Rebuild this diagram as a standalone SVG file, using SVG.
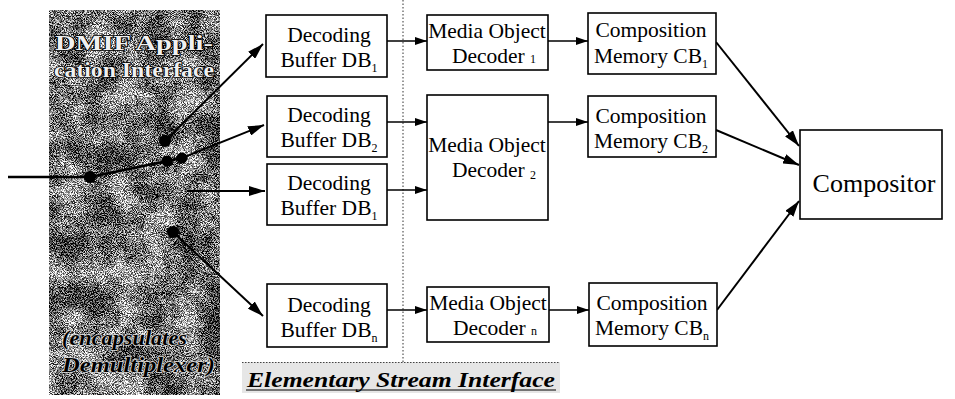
<svg xmlns="http://www.w3.org/2000/svg" width="955" height="399" viewBox="0 0 955 399">
<defs>
  <filter id="grain" x="0" y="0" width="1" height="1" filterUnits="objectBoundingBox" color-interpolation-filters="sRGB">
    <feTurbulence type="fractalNoise" baseFrequency="1.1" numOctaves="2" seed="7" result="f"/>
    <feColorMatrix in="f" type="matrix" values="1 0 0 0 0  1 0 0 0 0  1 0 0 0 0  0 0 0 0 1" result="fg"/>
    <feComponentTransfer in="fg" result="fc">
      <feFuncR type="linear" slope="3.6" intercept="-1.3"/>
      <feFuncG type="linear" slope="3.6" intercept="-1.3"/>
      <feFuncB type="linear" slope="3.6" intercept="-1.3"/>
    </feComponentTransfer>
    <feTurbulence type="fractalNoise" baseFrequency="0.035" numOctaves="3" seed="3" result="c"/>
    <feColorMatrix in="c" type="matrix" values="1 0 0 0 0  1 0 0 0 0  1 0 0 0 0  0 0 0 0 1" result="cg"/>
    <feComponentTransfer in="cg" result="cc">
      <feFuncR type="linear" slope="2.4" intercept="-0.7"/>
      <feFuncG type="linear" slope="2.4" intercept="-0.7"/>
      <feFuncB type="linear" slope="2.4" intercept="-0.7"/>
    </feComponentTransfer>
    <feComposite in="fc" in2="cc" operator="arithmetic" k1="0" k2="0.85" k3="0.45" k4="-0.2"/>
  </filter>
  <filter id="lightgrain" x="0" y="0" width="1" height="1" filterUnits="objectBoundingBox" color-interpolation-filters="sRGB">
    <feTurbulence type="fractalNoise" baseFrequency="1.0" numOctaves="1" seed="11" result="f"/>
    <feColorMatrix in="f" type="matrix" values="1 0 0 0 0  1 0 0 0 0  1 0 0 0 0  0 0 0 0 1" result="fg"/>
    <feComponentTransfer in="fg">
      <feFuncR type="linear" slope="1.4" intercept="0.2"/>
      <feFuncG type="linear" slope="1.4" intercept="0.2"/>
      <feFuncB type="linear" slope="1.4" intercept="0.2"/>
    </feComponentTransfer>
  </filter>
  <marker id="ah" viewBox="0 0 12 8" refX="12" refY="4" markerWidth="12" markerHeight="8" markerUnits="userSpaceOnUse" orient="auto">
    <path d="M0,0 L12,4 L0,8 Z" fill="#000"/>
  </marker>
  <marker id="ahb" viewBox="0 0 16 10" refX="16" refY="5" markerWidth="16" markerHeight="10" markerUnits="userSpaceOnUse" orient="auto">
    <path d="M0,0 L16,5 L0,10 Z" fill="#000"/>
  </marker>
  <style>
    .box { fill: #fff; stroke: #000; stroke-width: 1.6; }
    .t { font-family: "Liberation Serif", "Times New Roman", Times, "Nimbus Roman", "DejaVu Serif", serif; font-size: 21.5px; fill: #000; text-anchor: middle; }
    .sub { font-size: 12px; }
    .c { stroke: #000; stroke-width: 1.5; fill: none; marker-end: url(#ah); }
    .cb { stroke: #000; stroke-width: 2; fill: none; marker-end: url(#ahb); }
    .cl { stroke: #000; stroke-width: 2.5; fill: none; }
    .dot { fill: #000; }
    .pt { font-family: "Liberation Serif", "Times New Roman", Times, "DejaVu Serif", serif; font-size: 20px; font-weight: bold; fill: #f0f0f0; stroke: #000; stroke-width: 1.6; paint-order: stroke; }
    .pb { font-family: "Liberation Serif", "Times New Roman", Times, "DejaVu Serif", serif; font-size: 20px; font-weight: bold; font-style: italic; fill: #000; stroke: #d8d8d8; stroke-width: 1.4; paint-order: stroke; }
    .es { font-family: "Liberation Serif", "Times New Roman", Times, "DejaVu Serif", serif; font-size: 21px; font-weight: bold; font-style: italic; fill: #000; }
  </style>
</defs>

<g id="demux-panel">
  <rect x="49" y="10" width="171" height="385" fill="#666" filter="url(#grain)"/>
  <text class="pt" x="55" y="50" textLength="158" lengthAdjust="spacingAndGlyphs">DMIF Appli-</text>
  <text class="pt" x="54" y="77" textLength="160" lengthAdjust="spacingAndGlyphs">cation Interface</text>
  <text class="pb" x="62" y="345" textLength="125" lengthAdjust="spacingAndGlyphs">(encapsulates</text>
  <text class="pb" x="62" y="372" textLength="153" lengthAdjust="spacingAndGlyphs">Demultiplexer)</text>
</g>

<g id="es-interface">
  <line x1="403" y1="0" x2="403" y2="362" stroke="#333" stroke-width="1" stroke-dasharray="1.5,2"/>
  <rect x="242" y="362" width="318" height="31" fill="#ddd" filter="url(#lightgrain)"/>
  <line x1="242" y1="362.5" x2="560" y2="362.5" stroke="#444" stroke-width="1" stroke-dasharray="1.5,1.5"/>
  <text class="es" x="247" y="387" textLength="308" lengthAdjust="spacingAndGlyphs">Elementary Stream Interface</text>
  <line x1="246" y1="390" x2="556" y2="390" stroke="#000" stroke-width="1"/>
</g>

<g id="connectors">
  <polyline class="cl" points="8,177 90,177 182,158"/>
  <line class="cb" x1="182" y1="158" x2="264" y2="125"/>
  <line class="cb" x1="165" y1="141" x2="263" y2="44"/>
  <line class="cb" x1="187" y1="191" x2="265" y2="191"/>
  <line class="cb" x1="173" y1="232" x2="263" y2="316"/>
  <line class="c" x1="387" y1="41" x2="427" y2="41"/>
  <line class="c" x1="387" y1="122" x2="427" y2="122"/>
  <line class="c" x1="387" y1="190" x2="427" y2="190"/>
  <line class="c" x1="387" y1="310" x2="427" y2="310"/>
  <line class="c" x1="548" y1="41" x2="588" y2="41"/>
  <line class="c" x1="548" y1="122" x2="588" y2="122"/>
  <line class="c" x1="549" y1="310" x2="589" y2="310"/>
  <line class="cb" x1="716" y1="42" x2="799" y2="146"/>
  <line class="cb" x1="716" y1="130" x2="799" y2="165"/>
  <line class="cb" x1="717" y1="310" x2="799" y2="201"/>
  <circle class="dot" cx="90" cy="177" r="6"/>
  <circle class="dot" cx="167" cy="161" r="5.5"/>
  <circle class="dot" cx="182" cy="158" r="5.5"/>
  <circle class="dot" cx="165" cy="141" r="6"/>
  <circle class="dot" cx="173" cy="232" r="6"/>
</g>

<g id="db1">
  <rect class="box" x="266" y="15" width="121" height="62"/>
  <text class="t" x="329" y="42">Decoding</text>
  <text class="t" x="329" y="67">Buffer DB<tspan class="sub" dy="5">1</tspan></text>
</g>
<g id="db2">
  <rect class="box" x="267" y="96" width="120" height="61"/>
  <text class="t" x="329" y="122">Decoding</text>
  <text class="t" x="329" y="147">Buffer DB<tspan class="sub" dy="5">2</tspan></text>
</g>
<g id="db3">
  <rect class="box" x="267" y="164" width="120" height="61"/>
  <text class="t" x="329" y="190">Decoding</text>
  <text class="t" x="329" y="215">Buffer DB<tspan class="sub" dy="5">1</tspan></text>
</g>
<g id="dbn">
  <rect class="box" x="267" y="284" width="120" height="63"/>
  <text class="t" x="329" y="312">Decoding</text>
  <text class="t" x="329" y="337">Buffer DB<tspan class="sub" dy="5">n</tspan></text>
</g>

<g id="mod1">
  <rect class="box" x="427" y="15" width="121" height="55"/>
  <text class="t" x="487" y="38">Media Object</text>
  <text class="t" x="494" y="63">Decoder <tspan class="sub">1</tspan></text>
</g>
<g id="mod2">
  <rect class="box" x="427" y="95" width="121" height="125"/>
  <text class="t" x="487" y="152">Media Object</text>
  <text class="t" x="494" y="177">Decoder <tspan class="sub" dy="2">2</tspan></text>
</g>
<g id="modn">
  <rect class="box" x="427" y="287" width="122" height="55"/>
  <text class="t" x="488" y="310">Media Object</text>
  <text class="t" x="495" y="335">Decoder <tspan class="sub">n</tspan></text>
</g>

<g id="cb1">
  <rect class="box" x="588" y="13" width="128" height="61"/>
  <text class="t" x="651" y="37">Composition</text>
  <text class="t" x="651" y="63">Memory CB<tspan class="sub" dy="5">1</tspan></text>
</g>
<g id="cb2">
  <rect class="box" x="588" y="96" width="128" height="61"/>
  <text class="t" x="651" y="123">Composition</text>
  <text class="t" x="651" y="148">Memory CB<tspan class="sub" dy="5">2</tspan></text>
</g>
<g id="cbn">
  <rect class="box" x="589" y="283" width="128" height="63"/>
  <text class="t" x="652" y="310">Composition</text>
  <text class="t" x="652" y="335">Memory CB<tspan class="sub" dy="5">n</tspan></text>
</g>

<g id="compositor">
  <rect class="box" x="800" y="130" width="142" height="89"/>
  <text class="t" x="874" y="192" style="font-size:26px">Compositor</text>
</g>
</svg>
